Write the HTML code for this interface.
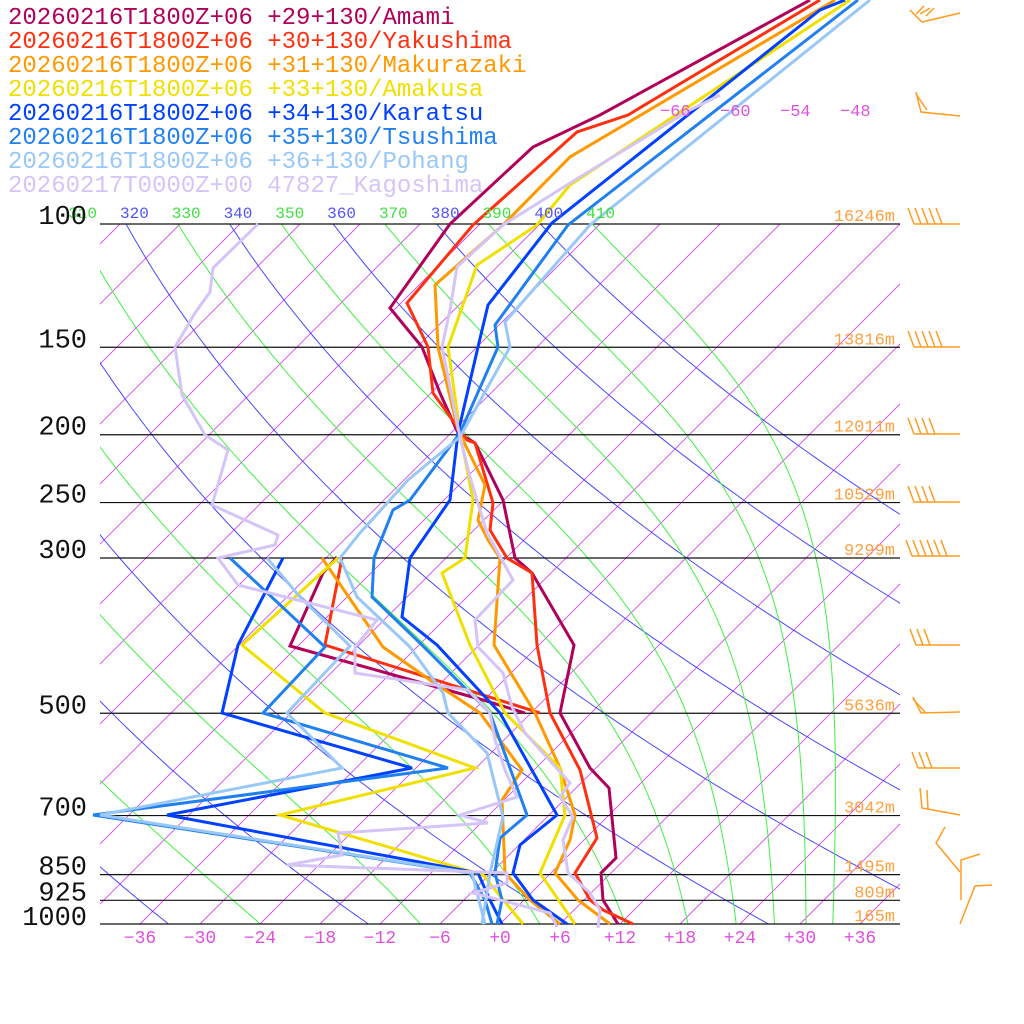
<!DOCTYPE html>
<html><head><meta charset="utf-8"><style>
html,body{margin:0;padding:0;background:#fff;}
svg{display:block;}
text{font-family:"Liberation Mono","DejaVu Sans Mono",monospace;}
</style></head><body>
<svg id="s" width="1024" height="1024" viewBox="0 0 1024 1024" xmlns="http://www.w3.org/2000/svg">
<defs><clipPath id="c"><rect x="100" y="224" width="800" height="700"/></clipPath></defs>
<g id="grid" clip-path="url(#c)"></g>
<g id="plines"></g>
<g id="prof" fill="none" stroke-width="3" stroke-linejoin="miter"></g>
<g id="barbs" fill="none" stroke="#ff9c20" stroke-width="1.5"></g>
<g id="txt"></g>
</svg>
<script>
var NS="http://www.w3.org/2000/svg";
function el(p,t,a,txt){var e=document.createElementNS(NS,t);for(var k in a)e.setAttribute(k,a[k]);if(txt!==undefined)e.textContent=txt;document.getElementById(p).appendChild(e);return e;}
function Y(p){return 924-304*Math.log(1000/p);}
function X(T,y){return 500+10*T+(924-y);}
for(var T=-150;T<=50;T+=6){var y1=924,y2=224;el("grid","line",{x1:X(T,y1),y1:y1,x2:X(T,y2),y2:y2,stroke:"#d848f0","stroke-width":0.9});}
var lab=[];
for(var th=200;th<=400;th+=20){var pts=[];for(var p=1000;p>=95;p-=5){var y=Y(p);var t=th*Math.pow(p/1000,0.2857)-273.15;pts.push(X(t,y).toFixed(1)+","+y.toFixed(1));}
el("grid","polyline",{points:pts.join(" "),fill:"none",stroke:"#4848ff","stroke-width":1});
var tt=th*Math.pow(0.1,0.2857)-273.15;lab.push([th,X(tt,224),"#5050ff"]);}
function es(Tc){return 6.112*Math.exp(17.67*Tc/(Tc+243.5));}
for(var te=230;te<=410;te+=20){var Tk=te*Math.pow(0.1,0.2857);var pts=[];var p=100;
var tc0=Tk-273.15;lab.push([te,X(tc0,224),"#40e040"]);
while(p<=1000){var y=Y(p);pts.push(X(Tk-273.15,y).toFixed(1)+","+y.toFixed(1));
var dp=2;var Tc=Tk-273.15;var e=es(Tc);var rs=0.622*e/(p-e);
var dTdp=(1/p)*(287*Tk+2.5e6*rs)/(1004+2.5e6*2.5e6*rs*0.622/(287*Tk*Tk));
Tk+=dTdp*dp;p+=dp;}
el("grid","polyline",{points:pts.join(" "),fill:"none",stroke:"#40f040","stroke-width":1});}
lab.forEach(function(l){if(l[0]>=310&&l[0]<=410)el("txt","text",{x:l[1]-6,y:218,fill:l[2],"font-size":16},String(l[0]));});
var P=[[100,"16246m"],[150,"13816m"],[200,"12011m"],[250,"10529m"],[300,"9299m"],[500,"5636m"],[700,"3042m"],[850,"1495m"],[925,"809m"],[1000,"165m"]];
P.forEach(function(a){var y=Y(a[0]);el("plines","line",{x1:100,y1:y,x2:900,y2:y,stroke:"#111","stroke-width":1.2});
el("txt","text",{x:895,y:y-3,fill:"#ffa040","font-size":17,"text-anchor":"end"},a[1]);
el("txt","text",{x:87,y:y+(a[0]==1000?1:0),"font-size":27,fill:"#111","text-anchor":"end"},String(a[0]));});
for(var T=-36;T<=36;T+=6){el("txt","text",{x:500+10*T,y:943,fill:"#e050e0","font-size":18,"text-anchor":"middle"},(T>=0?"+":"−")+Math.abs(T));}
[-66,-60,-54,-48].forEach(function(T){el("txt","text",{x:X(T,110)+6,y:116,fill:"#e050e0","font-size":17},"−"+Math.abs(T));});
var S=[
["#b0005a",[[810,0],[600,115],[533,147],[450,224],[390,308],[422,347],[440,393],[458,433],[475,443],[503,500],[515,558],[532,573],[574,645],[560,713],[590,768],[609,788],[616,858],[601,873],[603,900],[618,924]]],
["#b0005a",[[525,713],[483,700],[290,646],[323,573],[337,557]]],
["#ff3010",[[820,0],[628,115],[577,132],[473,225],[407,303],[428,347],[433,393],[467,440],[475,443],[493,503],[490,530],[507,558],[532,573],[537,645],[550,713],[580,770],[597,838],[575,873],[590,900],[603,910],[633,924]]],
["#ff3010",[[540,713],[325,645],[342,558]]],
["#ff9900",[[835,0],[570,157],[503,225],[435,285],[438,347],[458,430],[485,485],[478,520],[488,540],[500,558],[494,645],[535,713],[560,768],[575,815],[570,840],[555,873],[578,900],[610,924]]],
["#ff9900",[[560,924],[530,900],[505,873],[502,800],[522,770],[480,713],[430,680],[383,647],[322,558]]],
["#f0e000",[[850,0],[570,185],[537,225],[477,265],[448,347],[460,433],[473,500],[465,558],[442,573],[470,645],[505,713],[560,768],[565,815],[540,873],[575,924]]],
["#f0e000",[[523,924],[483,875],[280,815],[475,768],[325,713],[242,645],[338,558]]],
["#0040ff",[[845,0],[820,10],[552,223],[488,305],[478,347],[458,433],[450,500],[410,558],[402,617],[437,645],[500,713],[557,815],[520,845],[513,873],[533,900],[567,924]]],
["#0040ff",[[502,924],[490,900],[478,873],[167,815],[412,768],[222,713],[238,645],[283,558]]],
["#2080f0",[[858,0],[568,225],[495,325],[498,347],[460,433],[410,500],[393,510],[374,558],[372,597],[422,645],[490,713],[527,815],[500,838],[495,873],[502,900],[497,924]]],
["#2080f0",[[492,924],[485,900],[470,873],[93,815],[448,768],[263,713],[325,647],[230,558]]],
["#99c8f8",[[870,0],[590,225],[505,322],[510,347],[460,437],[408,480],[360,533],[340,558],[357,597],[410,647],[443,693],[448,713],[487,753],[503,817],[490,873],[482,924]]],
["#99c8f8",[[485,924],[472,873],[100,815],[342,768],[287,713],[350,646],[300,597],[267,558]]],
["#d4c4f8",[[720,95],[690,110],[575,180],[503,225],[457,267],[450,310],[442,347],[460,437],[470,477],[487,533],[513,580],[475,620],[478,647],[503,673],[512,707],[525,733],[570,783],[560,797],[573,817],[563,840],[568,873],[590,893],[600,910],[598,928]]],
["#d4c4f8",[[557,927],[550,913],[473,893],[507,883],[507,873],[287,865],[342,855],[338,833],[488,823],[460,815],[517,797],[505,770],[495,740],[490,713],[468,690],[355,673],[355,647],[377,620],[238,585],[218,558],[275,545],[278,535],[212,505],[228,450],[205,435],[182,395],[175,347],[195,313],[210,292],[213,268],[258,224]]]
];
S.forEach(function(s){el("prof","polyline",{points:s[1].map(function(q){return q.join(",");}).join(" "),stroke:s[0]});});
var L=[["#b0005a","20260216T1800Z+06 +29+130/Amami"],["#ff3010","20260216T1800Z+06 +30+130/Yakushima"],["#ff9900","20260216T1800Z+06 +31+130/Makurazaki"],["#f0e000","20260216T1800Z+06 +33+130/Amakusa"],["#0040ff","20260216T1800Z+06 +34+130/Karatsu"],["#2080f0","20260216T1800Z+06 +35+130/Tsushima"],["#99c8f8","20260216T1800Z+06 +36+130/Pohang"],["#d4c4f8","20260217T0000Z+00 47827_Kagoshima"]];
L.forEach(function(l,i){el("txt","text",{x:8,y:24+24*i,fill:l[0],"font-size":24},l[1]);});
function barb(y,n,x0){x0=x0||914;el("barbs","line",{x1:x0,y1:y,x2:960,y2:y});for(var i=0;i<n;i++){var bx=x0+i*7;el("barbs","line",{x1:bx,y1:y,x2:bx-6,y2:y-16});}}
barb(224,5);barb(347,5);barb(434,4);barb(502,4);barb(556,6,912);barb(645,3,916);barb(768,3,918);
el("barbs","polyline",{points:"910,10 922,22 960,13"});el("barbs","line",{x1:916,y1:14,x2:924,y2:6});el("barbs","line",{x1:920,y1:14,x2:930,y2:8});el("barbs","line",{x1:926,y1:16,x2:934,y2:8});
el("barbs","polyline",{points:"916,92 921,112 960,116"});el("barbs","line",{x1:916,y1:94,x2:927,y2:110});
el("barbs","polyline",{points:"913,697 921,713 960,712"});el("barbs","line",{x1:913,y1:699,x2:925,y2:712});
el("barbs","polyline",{points:"920,788 922,808 960,815"});el("barbs","line",{x1:927,y1:790,x2:928,y2:809});
el("barbs","polyline",{points:"945,827 936,843 960,872"});el("barbs","polyline",{points:"980,854 961,860 961,900"});
el("barbs","polyline",{points:"992,885 975,886 960,924"});
</script>
</body></html>
